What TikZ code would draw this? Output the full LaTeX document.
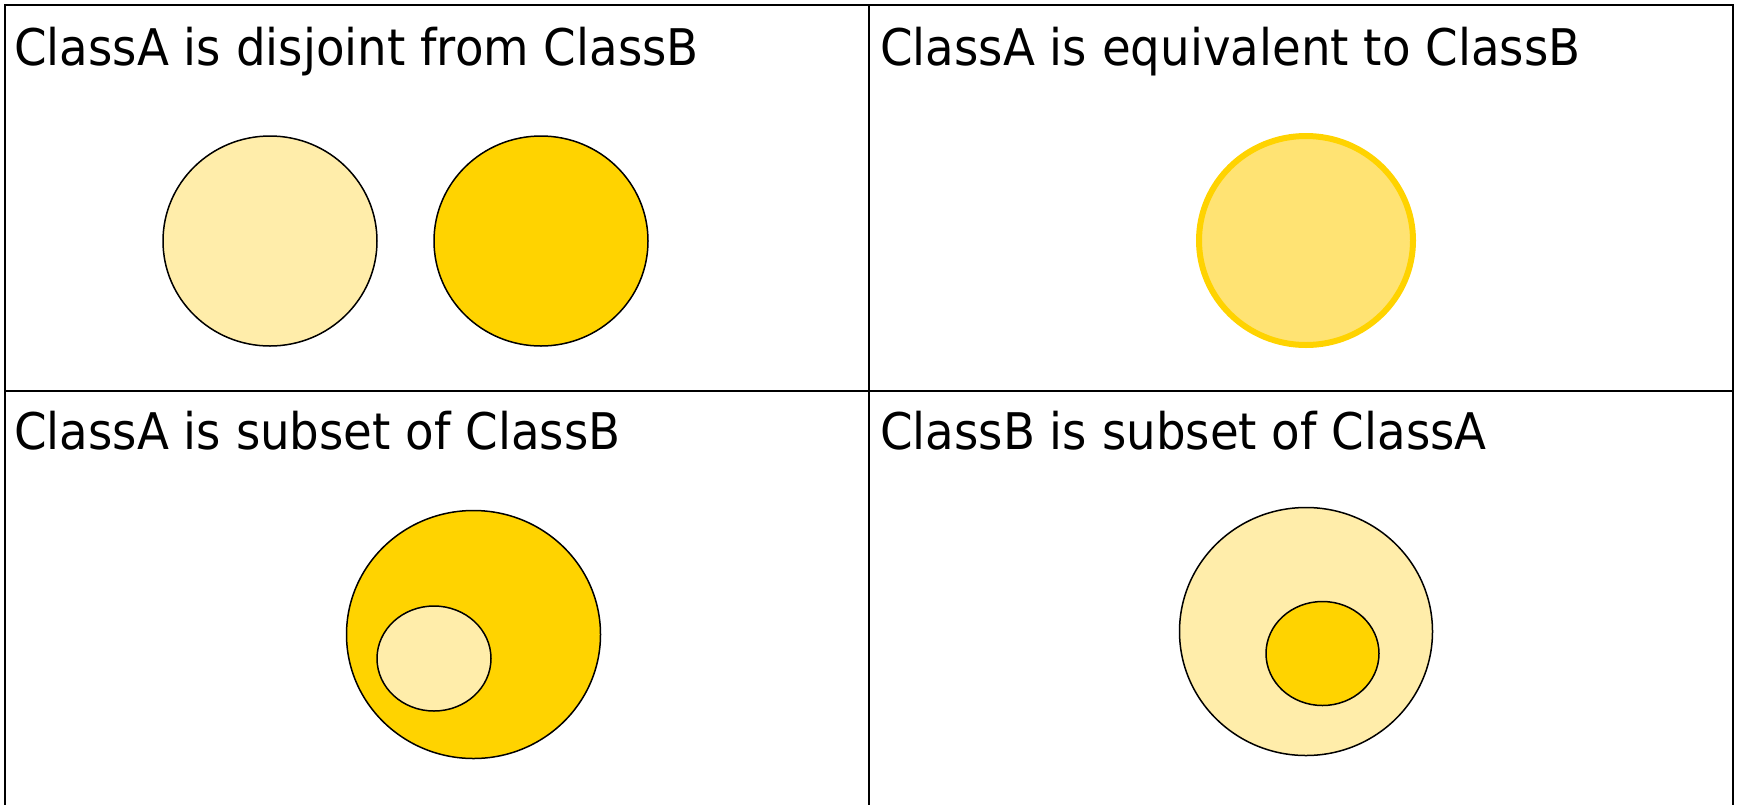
\documentclass[tikz,border=0pt]{standalone}
\usepackage{fontspec}
\setmainfont{DejaVu Sans}
\definecolor{paleyellow}{HTML}{FFEDAA}
\definecolor{goldfill}{HTML}{FFD300}
\definecolor{midgold}{HTML}{FFE373}
\begin{document}
\begin{tikzpicture}[x=1pt,y=-1pt,
  frameline/.style={line width=2.2pt,black},
  setshape/.style={draw=black,line width=1.5pt},
  caption/.style={anchor=base west,inner sep=0pt,font=\fontsize{50.5}{60}\selectfont}]
\useasboundingbox (0,0) rectangle (1737,804);
\fill[white] (0,0) rectangle (1737,804);
\clip (0,0) rectangle (1737,804);

% panel grid
\draw[frameline] (5,810) -- (5,5) -- (1733,5) -- (1733,810);
\draw[frameline] (869,5) -- (869,810);
\draw[frameline] (5,391) -- (1733,391);

% captions
\node[caption] (t1) at (14,65) {\scalebox{0.925}[1]{ClassA is disjoint from ClassB}};
\node[caption] (t2) at (880,65) {\scalebox{0.925}[1]{ClassA is equivalent to ClassB}};
\node[caption] (t3) at (14,449) {\scalebox{0.925}[1]{ClassA is subset of ClassB}};
\node[caption] (t4) at (880,449) {\scalebox{0.925}[1]{ClassB is subset of ClassA}};

% disjoint
\draw[setshape,fill=paleyellow] (270,241) ellipse [x radius=107, y radius=105];
\draw[setshape,fill=goldfill] (541,241) ellipse [x radius=107, y radius=105];

% equivalent
\draw[draw=goldfill,line width=6pt,fill=midgold] (1306,240.5) ellipse [x radius=107, y radius=104.5];

% A subset of B
\draw[setshape,fill=goldfill] (473.5,634.5) ellipse [x radius=127, y radius=124];
\draw[setshape,fill=paleyellow] (434,658.5) ellipse [x radius=57, y radius=52.5];

% B subset of A
\draw[setshape,fill=paleyellow] (1306,631.5) ellipse [x radius=126.5, y radius=124];
\draw[setshape,fill=goldfill] (1322.5,653.5) ellipse [x radius=56.5, y radius=52];
\end{tikzpicture}
\end{document}
